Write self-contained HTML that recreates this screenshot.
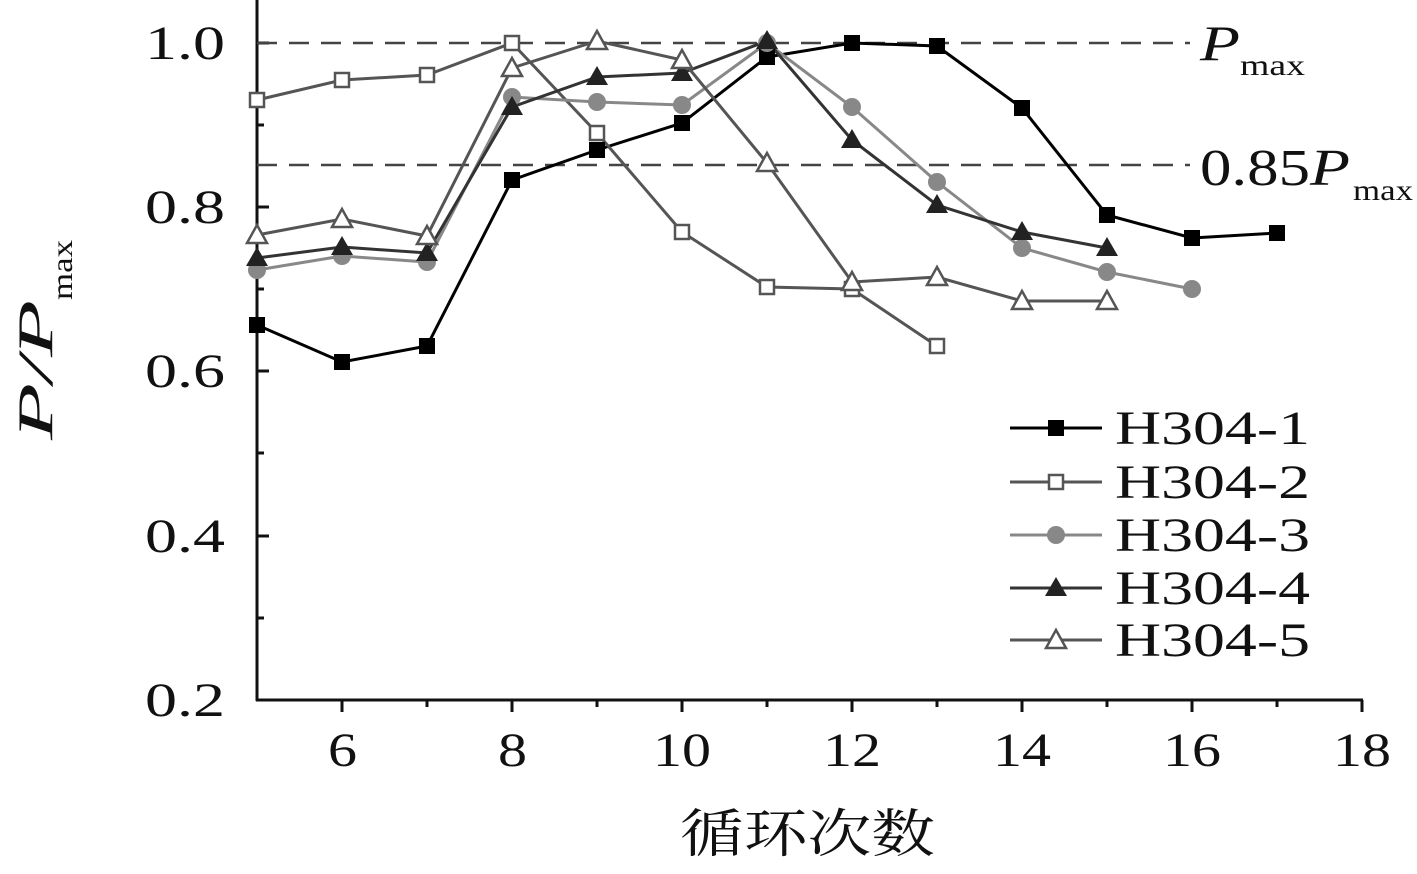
<!DOCTYPE html>
<html><head><meta charset="utf-8"><style>
html,body{margin:0;padding:0;background:#fff;}
svg{display:block;}
text{font-family:"Liberation Serif","Noto Serif CJK SC",serif;fill:#111;}
</style></head><body>
<svg width="1417" height="874" viewBox="0 0 1417 874" xmlns="http://www.w3.org/2000/svg">
<defs>
<g id="sqf"><rect x="-8" y="-8" width="16" height="16" fill="#000"/></g>
<g id="sqo"><rect x="-7" y="-7" width="14" height="14" fill="#fff" stroke="#555" stroke-width="2.5"/></g>
<g id="cir"><circle r="9" fill="#888"/></g>
<g id="trf"><polygon points="0,-11 11,8 -11,8" fill="#222"/></g>
<g id="tro"><polygon points="0,-10 10,8 -10,8" fill="#fff" stroke="#555" stroke-width="2.5"/></g>
</defs>
<g stroke="#111" stroke-width="3" fill="none">
<line x1="257" y1="0" x2="257" y2="701"/>
<line x1="256" y1="700" x2="1363" y2="700"/>
<path d="M257 43h12M257 207h12M257 371h12M257 536h12M257 125h7M257 289h7M257 453h7M257 618h7"/>
<path d="M342 700v12M512 700v12M682 700v12M852 700v12M1022 700v12M1192 700v12M1362 700v12M427 700v7M597 700v7M767 700v7M937 700v7M1107 700v7M1277 700v7"/>
</g>
<g stroke="#444" stroke-width="2.5" stroke-dasharray="20,12">
<line x1="257" y1="43" x2="1190" y2="43"/>
<line x1="257" y1="165" x2="1190" y2="165"/>
</g>
<text x="1200" y="60" font-size="50" font-style="italic" textLength="40" lengthAdjust="spacingAndGlyphs">P</text>
<text x="1240" y="75" font-size="30" textLength="65" lengthAdjust="spacingAndGlyphs">max</text>
<text x="1200" y="185" font-size="52" textLength="110" lengthAdjust="spacingAndGlyphs">0.85</text>
<text x="1310" y="185" font-size="52" font-style="italic" textLength="40" lengthAdjust="spacingAndGlyphs">P</text>
<text x="1353" y="200" font-size="30" textLength="60" lengthAdjust="spacingAndGlyphs">max</text>
<g font-size="48">
<text x="145" y="59" textLength="80" lengthAdjust="spacingAndGlyphs">1.0</text>
<text x="145" y="223" textLength="80" lengthAdjust="spacingAndGlyphs">0.8</text>
<text x="145" y="387" textLength="80" lengthAdjust="spacingAndGlyphs">0.6</text>
<text x="145" y="552" textLength="80" lengthAdjust="spacingAndGlyphs">0.4</text>
<text x="145" y="716" textLength="80" lengthAdjust="spacingAndGlyphs">0.2</text>
</g>
<g font-size="48">
<text x="328" y="766" textLength="29" lengthAdjust="spacingAndGlyphs">6</text>
<text x="498" y="766" textLength="29" lengthAdjust="spacingAndGlyphs">8</text>
<text x="653" y="766" textLength="58" lengthAdjust="spacingAndGlyphs">10</text>
<text x="823" y="766" textLength="58" lengthAdjust="spacingAndGlyphs">12</text>
<text x="993" y="766" textLength="58" lengthAdjust="spacingAndGlyphs">14</text>
<text x="1163" y="766" textLength="58" lengthAdjust="spacingAndGlyphs">16</text>
<text x="1333" y="766" textLength="58" lengthAdjust="spacingAndGlyphs">18</text>
</g>
<text x="680" y="852" font-size="52" textLength="255" lengthAdjust="spacingAndGlyphs">循环次数</text>
<g transform="translate(52,440) rotate(-90)">
<text x="0" y="0" font-size="50" font-style="italic" textLength="140" lengthAdjust="spacingAndGlyphs">P/P</text>
<text x="140" y="20" font-size="30" textLength="60" lengthAdjust="spacingAndGlyphs">max</text>
</g>
<polyline fill="none" stroke="#000" stroke-width="3" points="257,325 342,362 427,346 512,180 597,150 682,123 767,57 852,43 937,46 1022,108 1107,215 1192,238 1277,233"/>
<polyline fill="none" stroke="#555" stroke-width="3" points="257,100 342,80 427,75 512,43 597,133 682,232 767,287 852,289 937,346"/>
<polyline fill="none" stroke="#888" stroke-width="3" points="257,270 342,256 427,262 512,97 597,102 682,105 767,43 852,107 937,182 1022,248 1107,272 1192,289"/>
<polyline fill="none" stroke="#333" stroke-width="3" points="257,258 342,247 427,253 512,107 597,77 682,73 767,41 852,140 937,205 1022,232 1107,248"/>
<polyline fill="none" stroke="#555" stroke-width="3" points="257,235 342,219 427,236 512,68 597,41 682,60 767,163 852,282 937,277 1022,301 1107,301"/>
<g>
<use href="#sqf" x="257" y="325"/><use href="#sqf" x="342" y="362"/><use href="#sqf" x="427" y="346"/><use href="#sqf" x="512" y="180"/><use href="#sqf" x="597" y="150"/><use href="#sqf" x="682" y="123"/><use href="#sqf" x="767" y="57"/><use href="#sqf" x="852" y="43"/><use href="#sqf" x="937" y="46"/><use href="#sqf" x="1022" y="108"/><use href="#sqf" x="1107" y="215"/><use href="#sqf" x="1192" y="238"/><use href="#sqf" x="1277" y="233"/>
<use href="#sqo" x="257" y="100"/><use href="#sqo" x="342" y="80"/><use href="#sqo" x="427" y="75"/><use href="#sqo" x="512" y="43"/><use href="#sqo" x="597" y="133"/><use href="#sqo" x="682" y="232"/><use href="#sqo" x="767" y="287"/><use href="#sqo" x="852" y="289"/><use href="#sqo" x="937" y="346"/>
<use href="#cir" x="257" y="270"/><use href="#cir" x="342" y="256"/><use href="#cir" x="427" y="262"/><use href="#cir" x="512" y="97"/><use href="#cir" x="597" y="102"/><use href="#cir" x="682" y="105"/><use href="#cir" x="767" y="43"/><use href="#cir" x="852" y="107"/><use href="#cir" x="937" y="182"/><use href="#cir" x="1022" y="248"/><use href="#cir" x="1107" y="272"/><use href="#cir" x="1192" y="289"/>
<use href="#trf" x="257" y="258"/><use href="#trf" x="342" y="247"/><use href="#trf" x="427" y="253"/><use href="#trf" x="512" y="107"/><use href="#trf" x="597" y="77"/><use href="#trf" x="682" y="73"/><use href="#trf" x="767" y="41"/><use href="#trf" x="852" y="140"/><use href="#trf" x="937" y="205"/><use href="#trf" x="1022" y="232"/><use href="#trf" x="1107" y="248"/>
<use href="#tro" x="257" y="235"/><use href="#tro" x="342" y="219"/><use href="#tro" x="427" y="236"/><use href="#tro" x="512" y="68"/><use href="#tro" x="597" y="41"/><use href="#tro" x="682" y="60"/><use href="#tro" x="767" y="163"/><use href="#tro" x="852" y="282"/><use href="#tro" x="937" y="277"/><use href="#tro" x="1022" y="301"/><use href="#tro" x="1107" y="301"/>
</g>
<g stroke-width="3">
<line x1="1010" y1="428" x2="1102" y2="428" stroke="#000"/>
<line x1="1010" y1="482" x2="1102" y2="482" stroke="#555"/>
<line x1="1010" y1="535" x2="1102" y2="535" stroke="#888"/>
<line x1="1010" y1="588" x2="1102" y2="588" stroke="#333"/>
<line x1="1010" y1="640" x2="1102" y2="640" stroke="#555"/>
</g>
<use href="#sqf" x="1056" y="428"/><use href="#sqo" x="1056" y="482"/><use href="#cir" x="1056" y="535"/><use href="#trf" x="1056" y="588"/><use href="#tro" x="1056" y="640"/>
<g font-size="48">
<text x="1115" y="444" textLength="195" lengthAdjust="spacingAndGlyphs">H304-1</text>
<text x="1115" y="498" textLength="195" lengthAdjust="spacingAndGlyphs">H304-2</text>
<text x="1115" y="551" textLength="195" lengthAdjust="spacingAndGlyphs">H304-3</text>
<text x="1115" y="604" textLength="195" lengthAdjust="spacingAndGlyphs">H304-4</text>
<text x="1115" y="656" textLength="195" lengthAdjust="spacingAndGlyphs">H304-5</text>
</g>
</svg>
</body></html>
